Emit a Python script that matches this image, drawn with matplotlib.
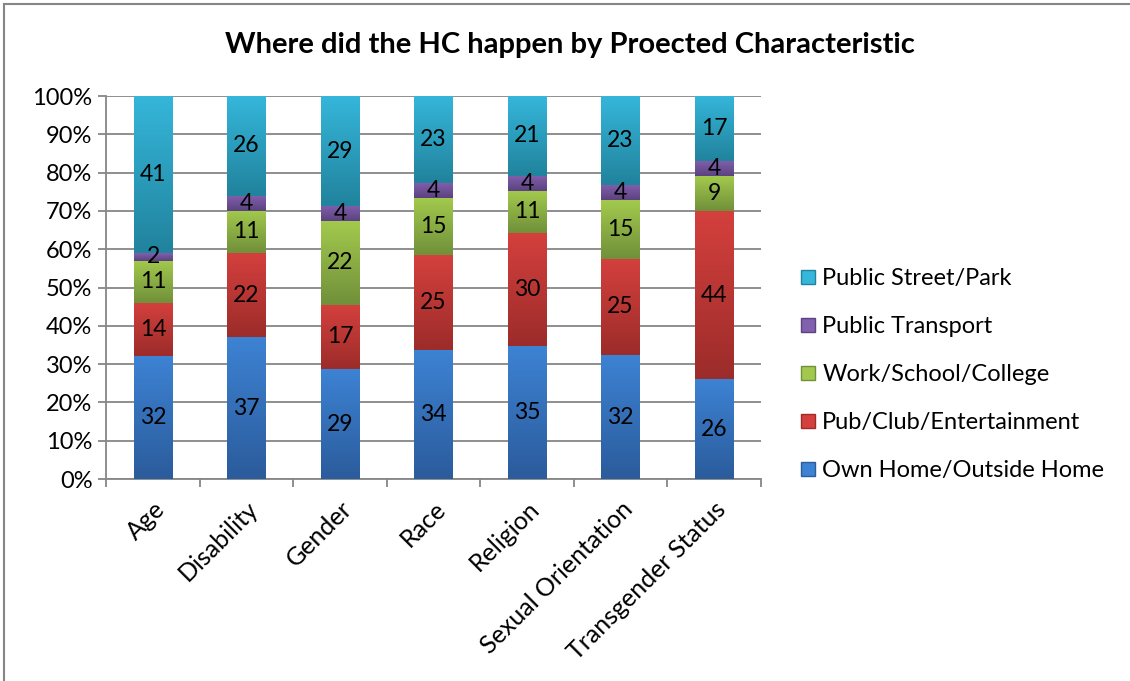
import matplotlib.pyplot as plt
import numpy as np
from matplotlib.colors import LinearSegmentedColormap
from matplotlib.lines import Line2D
from matplotlib.transforms import ScaledTranslation

categories = ["Age", "Disability", "Gender", "Race", "Religion",
              "Sexual Orientation", "Transgender Status"]
series = ["Own Home/Outside Home", "Pub/Club/Entertainment",
          "Work/School/College", "Public Transport", "Public Street/Park"]
own_home = [32, 37, 29, 34, 35, 32, 26]
pub_club = [14, 22, 17, 25, 30, 25, 44]
work_school = [11, 11, 22, 15, 11, 15, 9]
public_transport = [2, 4, 4, 4, 4, 4, 4]
street_park = [41, 26, 29, 23, 21, 23, 17]

# (top colour, bottom colour) for the Excel-style gradient fill
grads = [("#3d82d3", "#2b5c9c"),
         ("#d4403d", "#9c2c2a"),
         ("#a2c94d", "#71903a"),
         ("#8160ad", "#5c4280"),
         ("#35b6da", "#21839d")]

plt.rcParams['font.family'] = ['Lato', 'DejaVu Sans']

fig = plt.figure(figsize=(11.3, 6.81), dpi=100)
ax = fig.add_axes([0.0941, 0.2966, 0.5792, 0.5624])

data = np.array([own_home, pub_club, work_school, public_transport, street_park], dtype=float)
pct = data / data.sum(axis=0) * 100
x = np.arange(len(categories))
bottom = np.zeros(len(categories))

for i, name in enumerate(series):
    bars = ax.bar(x, pct[i], 0.41, bottom=bottom, color=grads[i][0], zorder=2)
    cmap = LinearSegmentedColormap.from_list("g%d" % i, [grads[i][1], grads[i][0]])
    for b in bars:
        bx, by, bw, bh = b.get_x(), b.get_y(), b.get_width(), b.get_height()
        im = ax.imshow(np.linspace(0, 1, 64).reshape(-1, 1), cmap=cmap, aspect='auto',
                       extent=[bx, bx + bw, by, by + bh], origin='lower', zorder=3)
        im.set_clip_path(b)
    for j in range(len(categories)):
        ax.text(x[j], bottom[j] + pct[i][j] / 2, "%d" % data[i][j], ha='center', va='center',
                fontsize=16.5, color='black', zorder=5)
    bottom += pct[i]

ax.set_xlim(-0.5, len(categories) - 0.5)
ax.set_ylim(0, 100)
ax.set_yticks(np.arange(0, 101, 10))
ax.set_yticklabels(["%d%%" % v for v in range(0, 101, 10)], fontsize=17)
ax.yaxis.grid(True, color="#868686", linewidth=1.3, zorder=0)
ax.set_axisbelow(True)

ax.set_xticks(x)
ax.set_xticklabels(categories, rotation=45, ha='right', rotation_mode='anchor', fontsize=18)
for lab in ax.get_xticklabels():
    lab.set_transform(lab.get_transform() + ScaledTranslation(0.16, 0, fig.dpi_scale_trans))
ax.set_xticks(np.arange(-0.5, len(categories)), minor=True)
ax.tick_params(axis='x', which='major', length=0, pad=13)
ax.tick_params(axis='x', which='minor', length=6, color="#868686", width=1.3)
ax.tick_params(axis='y', length=6, color="#868686", width=1.3, pad=4)

for s in ['top', 'right']:
    ax.spines[s].set_visible(False)
for s in ['left', 'bottom']:
    ax.spines[s].set_color("#868686")
    ax.spines[s].set_linewidth(1.3)

fig.text(0.504, 0.934, "Where did the HC happen by Proected Characteristic",
         ha='center', va='center', fontsize=21, fontweight='bold')

handles = [Line2D([], [], marker='s', linestyle='', markersize=10,
                  markerfacecolor=grads[i][0], markeredgecolor=grads[i][1]) for i in range(5)]
fig.legend(handles[::-1], series[::-1], loc='center left', bbox_to_anchor=(0.688, 0.45),
           frameon=False, fontsize=17, handletextpad=0.2, labelspacing=1.14, handlelength=0.8)

# chart border (right/bottom cut off in the original)
fig.add_artist(Line2D([0.0035, 1.0], [0.9945, 0.9945], transform=fig.transFigure, color="#868686", linewidth=1.5))
fig.add_artist(Line2D([0.0035, 0.0035], [0.0, 0.9945], transform=fig.transFigure, color="#868686", linewidth=1.5))

fig.savefig("out.png", dpi=100)
